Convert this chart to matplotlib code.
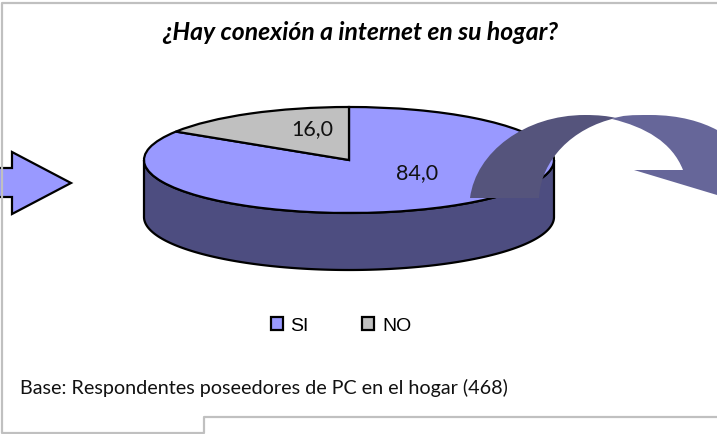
import numpy as np
import matplotlib
matplotlib.use("Agg")
import matplotlib.pyplot as plt
from matplotlib.patches import PathPatch, Polygon
from matplotlib.path import Path

W, H = 717, 434

categories = ["SI", "NO"]
values = [84.0, 16.0]
colors = ["#9999ff", "#c0c0c0"]
side_color = "#4d4d80"
title = "¿Hay conexión a internet en su hogar?"
base_note = "Base: Respondentes poseedores de PC en el hogar (468)"

fig = plt.figure(figsize=(W / 100, H / 100), dpi=100)

# background axes in pixel coordinates
bg = fig.add_axes([0, 0, 1, 1])
bg.set_xlim(0, W)
bg.set_ylim(H, 0)
bg.axis("off")

# frame
bg.plot([W, 2, 2, 204, 204, W], [3, 3, 433, 433, 417, 417], color="#c0c0c0", lw=1.6)

# left arrow
bg.add_patch(Polygon([(-3, 168), (12, 168), (12, 152), (71, 183), (12, 214),
                      (12, 197), (-3, 197)], closed=True, fc="#9999ff", ec="black", lw=1.6))

# pie side wall
cx, cy, a, b, depth = 349, 160, 205, 53, 57
t = np.linspace(0, np.pi, 200)
xs = cx + a * np.cos(t)
ys = cy + b * np.sin(t)
wall = list(zip(xs, ys)) + list(zip(xs[::-1], ys[::-1] + depth))
bg.add_patch(Polygon(wall, closed=True, fc=side_color, ec="black", lw=1.6))

# pie top, squashed into its own axes
pie_ax = fig.add_axes([(cx - a) / W, 1 - (cy + b) / H, 2 * a / W, 2 * b / H])
pie_ax.patch.set_alpha(0)
wedges, _ = pie_ax.pie(values, colors=colors, startangle=90, counterclock=False,
                       wedgeprops={"edgecolor": "black", "linewidth": 1.6})
pie_ax.set_aspect("auto")
pie_ax.set_xlim(-1, 1)
pie_ax.set_ylim(-1, 1)
for w in wedges:
    w.set_clip_on(False)

# front axes for labels and the curved arrow
top = fig.add_axes([0, 0, 1, 1])
top.set_xlim(0, W)
top.set_ylim(H, 0)
top.axis("off")
top.patch.set_alpha(0)

top.text(417, 173, f"{values[0]:.1f}".replace(".", ","), ha="center", va="center",
         fontsize=15.5, family="Lato", color="#111111")
top.text(312, 129, f"{values[1]:.1f}".replace(".", ","), ha="center", va="center",
         fontsize=15.5, family="Lato", color="#111111")

# curved arrow, dark back half
C4, M, L = Path.CURVE4, Path.MOVETO, Path.LINETO
dark = Path([(470, 198), (476, 152), (525, 115), (585, 115), (598, 115), (608, 116), (616, 118),
             (572, 128), (541, 160), (539, 198), (470, 198)],
            [M, C4, C4, C4, C4, C4, C4, C4, C4, C4, L])
top.add_patch(PathPatch(dark, fc="#55547c", ec="none", zorder=3))

light = Path([(612, 119), (622, 115), (632, 115), (650, 115), (680, 115), (702, 122), (717, 130),
              (717, 195), (634, 170), (683, 170), (672, 142), (645, 127), (612, 119)],
             [M, C4, C4, C4, C4, C4, C4, L, L, L, C4, C4, C4])
top.add_patch(PathPatch(light, fc="#666699", ec="none", zorder=3))

top.text(360, 33, title, ha="center", va="center", fontsize=17.8, family="Lato",
         weight="bold", style="italic", color="black")
top.text(20, 388, base_note, ha="left", va="center", fontsize=14.2, family="Lato", color="#111111")

leg = top.legend(wedges, categories, ncol=2, loc="center", bbox_to_anchor=(341 / W, 1 - 326 / H),
                 frameon=False, prop={"family": "Liberation Sans", "size": 14},
                 handlelength=0.62, handleheight=0.62, handletextpad=0.4, columnspacing=2.75)

fig.savefig("out.png", dpi=100)
plt.close()
